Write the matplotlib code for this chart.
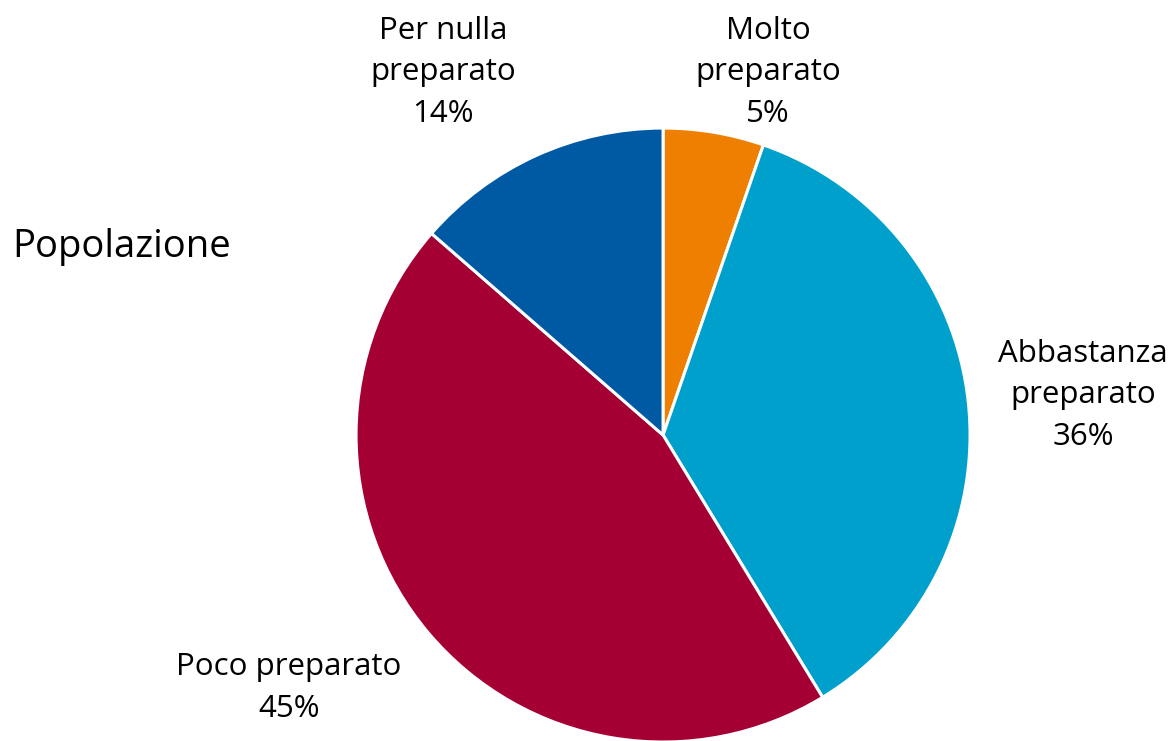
import matplotlib
matplotlib.use("Agg")
import matplotlib.pyplot as plt

categories = ["Molto\npreparato", "Abbastanza\npreparato", "Poco preparato", "Per nulla\npreparato"]
values = [5.3, 36.0, 45.1, 13.6]
colors = ["#EE7F00", "#00A0CC", "#A50034", "#0059A3"]
title = "Popolazione"

plt.rcParams['font.family'] = ['Open Sans', 'DejaVu Sans']

fig = plt.figure(figsize=(11.75, 7.41), dpi=100)
ax = fig.add_axes([0.303, -0.0014, 0.5226, 0.8286])
wedges, _ = ax.pie(values, colors=colors, startangle=90, counterclock=False,
                   wedgeprops=dict(edgecolor="white", linewidth=2.2), radius=1.0)
ax.set_xlim(-1, 1)
ax.set_ylim(-1, 1)
ax.set_aspect('equal')
ax.axis('off')

label_pos = [(0.342, 1.182), (1.368, 0.130), (-1.218, -0.824), (-0.717, 1.182)]
for cat, v, (x, y) in zip(categories, values, label_pos):
    ax.text(x, y, f"{cat}\n{round(v)}%", ha="center", va="center", fontsize=22.5,
            linespacing=1.5, color="#000000", clip_on=False)

fig.text(0.0102, 0.667, title, ha="left", va="center", fontsize=27.5, color="#000000")

fig.savefig("out.png", dpi=100)
